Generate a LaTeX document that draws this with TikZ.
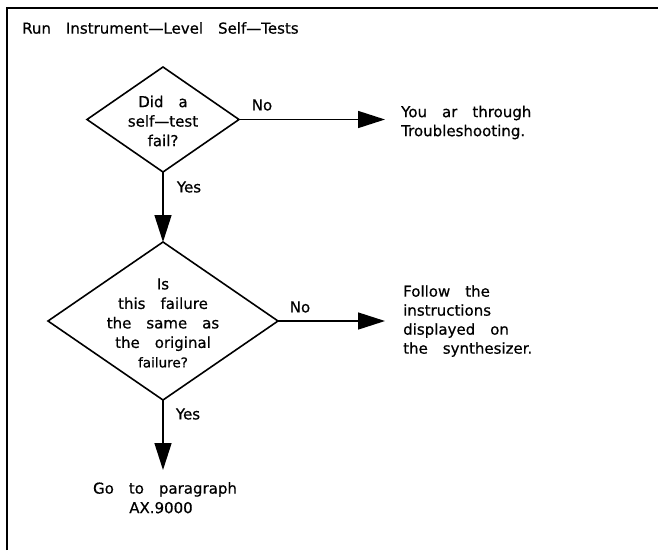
\documentclass[tikz,border=0pt]{standalone}
\usepackage{fontspec}
\setmainfont[FakeBold=0.6]{DejaVu Sans}
\usetikzlibrary{shapes.geometric,arrows.meta}
\tikzset{
  txt/.style={inner sep=0pt, align=left, font=\fontsize{15}{19}\selectfont, execute at begin node={\spaceskip=15pt\relax}},
  ctxt/.style={inner sep=0pt, align=center, font=\fontsize{15}{19.5}\selectfont, execute at begin node={\spaceskip=15pt\relax}},
  lbl/.style={inner sep=0pt, font=\fontsize{15}{19}\selectfont},
  decision/.style={shape=diamond, draw, line width=1.6pt, inner sep=0pt, outer sep=0pt},
  arr/.style={line width=1.5pt, -{Triangle[length=27pt,width=17pt]}},
  frame/.style={line width=1.4pt}
}
\begin{document}
\begin{tikzpicture}[x=1pt,y=-1pt]
\useasboundingbox (0,0) rectangle (658,550);
\draw[frame] (7,550) -- (7,8) -- (658,8);
\node[txt, anchor=west] (title) at (22,28) {Run Instrument—Level Self—Tests};

\node[decision, minimum width=152pt, minimum height=105pt] (d1) at (163,119.5) {};
\node[ctxt] (d1t) at (163,121) {Did a\\self—test\\fail?};

\node[decision, minimum width=230pt, minimum height=158pt] (d2) at (163,321) {};
\node[ctxt] (d2t) at (163,323) {Is\\this failure\\the same as\\the original\\{\fontsize{13.5}{19.5}\selectfont failure?}};

\node[txt, anchor=west] (t1) at (401,122.5) {You ar through\\Troubleshooting.};
\node[txt, anchor=west] (t2) at (403,321) {Follow the\\instructions\\displayed on\\the synthesizer.};
\node[ctxt, anchor=north] (t3) at (165,482) {Go to paragraph\\\hspace*{-8pt}AX.9000};

\draw[arr, shorten >=16pt] (d1.east) -- (d1.east -| t1.west);
\draw[arr] (d1.south) -- (d2.north);
\draw[arr, shorten >=18pt] (d2.east) -- (d2.east -| t2.west);
\draw[arr, shorten >=12pt] (d2.south) -- (d2.south |- t3.north);

\node[lbl] (no1) at (262,105) {No};
\node[lbl] (yes1) at (189,187) {Yes};
\node[lbl] (no2) at (300,307) {No};
\node[lbl] (yes2) at (188,414) {Yes};
\end{tikzpicture}
\end{document}
